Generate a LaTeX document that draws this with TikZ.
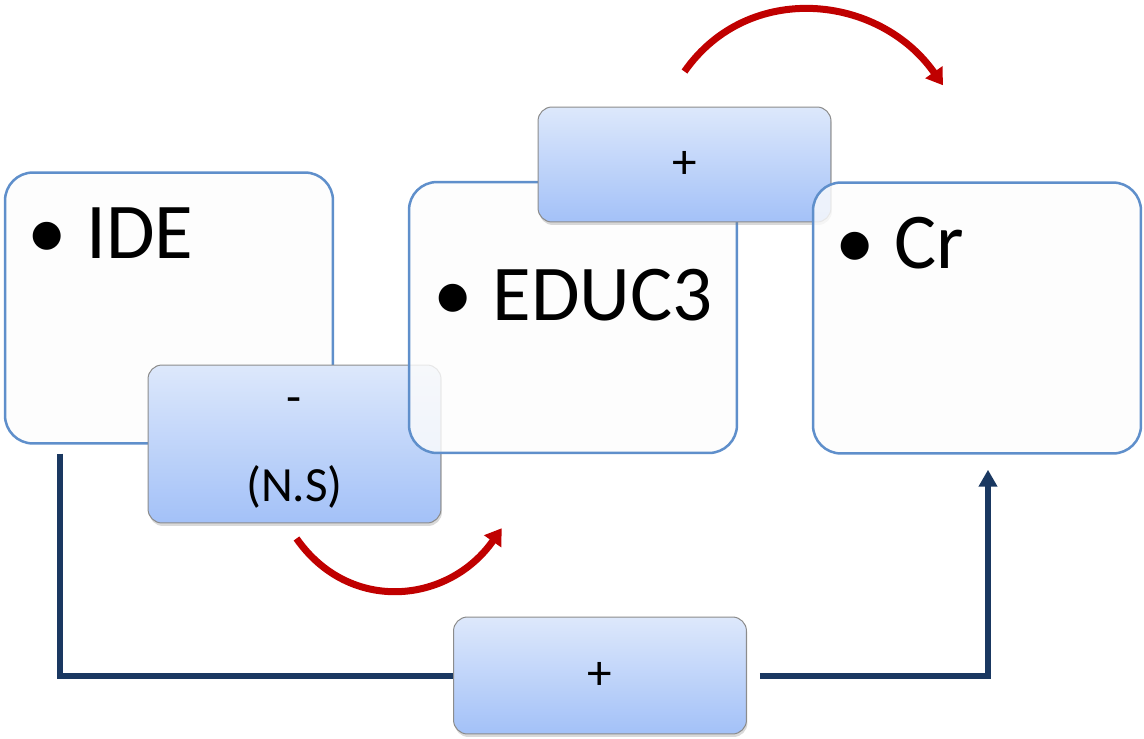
\documentclass[tikz,border=0pt]{standalone}
\usepackage{fontspec}
\setmainfont{Carlito}
\usetikzlibrary{arrows.meta,shadows}

\definecolor{boxline}{HTML}{5F8FCB}
\definecolor{boxfill}{HTML}{FCFCFC}
\definecolor{tagtop}{HTML}{DDE8FB}
\definecolor{tagbot}{HTML}{A3C1F8}
\definecolor{tagline}{HTML}{8C8C8C}
\definecolor{flowred}{HTML}{C00000}
\definecolor{linknavy}{HTML}{1A3861}

\tikzset{
  bigbox/.style={draw=boxline, line width=0.05cm, fill=boxfill, fill opacity=0.82,
    rounded corners=0.56cm, minimum width=6.56cm, minimum height=5.42cm, inner sep=0pt},
  bigtext/.style={anchor=base west, inner sep=0pt, font=\fontsize{45}{54}\selectfont},
  tag/.style={draw=tagline, line width=0.02cm, top color=tagtop, bottom color=tagbot,
    rounded corners=0.28cm, minimum width=5.86cm, inner sep=0pt, align=center,
    font=\fontsize{28}{50}\selectfont,
    drop shadow={shadow xshift=0.02cm, shadow yshift=-0.06cm, opacity=0.3}},
  flow/.style={draw=flowred, line width=0.14cm, -{Triangle[length=0.32cm,width=0.4cm]}},
  link/.style={draw=linknavy, line width=0.12cm}
}

\begin{document}
\begin{tikzpicture}[x=0.02cm, y=-0.02cm]
  \useasboundingbox (0,0) rectangle (1144,738);

  % ---- left box ----
  \node[bigbox] (ide) at (169,308) {};
  \node[bigtext] (idetxt) at ([xshift=0.46cm,yshift=-1.74cm]ide.north west) {•\hspace{0.4cm}IDE};

  % ---- not significant link, under the middle box ----
  \node[tag, minimum height=3.16cm] (ns) at (294.5,444) {\rule{0pt}{0.68cm}-\\(N.S)};

  % ---- middle box ----
  \node[bigbox] (educ) at (573,317.5) {};
  \node[bigtext] (eductxt) at ([xshift=0.5cm,yshift=-2.8cm]educ.north west) {•\hspace{0.4cm}EDUC3};

  % ---- top link, under the right box ----
  \node[tag, minimum height=2.3cm] (plustop) at (684.5,164.5) {+};

  % ---- right box ----
  \node[bigbox] (cr) at (977,318) {};
  \node[bigtext] (crtxt) at ([xshift=0.46cm,yshift=-1.74cm]cr.north west) {•\hspace{0.4cm}Cr};

  % ---- bottom link ----
  \node[tag, minimum height=2.34cm] (plusbot) at (600,675.5) {+};

  % ---- red curved arrows ----
  \draw[flow] ([xshift=0.04cm,yshift=-0.3cm]ns.south)
    to[out=-55, in=-125, looseness=1.15] ([xshift=1.88cm,yshift=-1.48cm]educ.south west);
  \draw[flow] ([yshift=0.7cm]plustop.north)
    to[out=55, in=125, looseness=1.1] ([xshift=-0.68cm,yshift=1.92cm]cr.north);

  % ---- navy connector round the bottom ----
  \draw[link] ([xshift=1.12cm,yshift=-0.18cm]ide.south west) |- (plusbot.west);
  \draw[link, -{Triangle[length=0.34cm,width=0.36cm]}]
    ([xshift=0.26cm]plusbot.east) -| ([xshift=0.22cm,yshift=-0.3cm]cr.south);

\end{tikzpicture}
\end{document}
